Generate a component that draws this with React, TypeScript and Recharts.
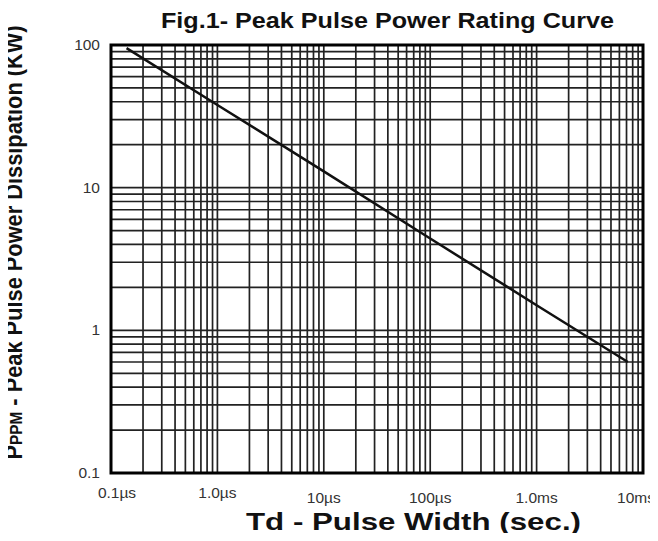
import React from 'react';
import { LineChart, Line, XAxis, YAxis, CartesianGrid, ReferenceArea } from 'recharts';

const pulseWidth = [1.4e-7, 1e-6, 1e-5, 1e-4, 1e-3, 7.2e-3];
const peakPower = [95, 38, 13, 4.4, 1.5, 0.6];
const xDecades = [1e-7, 1e-6, 1e-5, 1e-4, 1e-3, 1e-2];
const xTickLabels = ['0.1µs', '1.0µs', '10µs', '100µs', '1.0ms', '10ms'];
const yDecades = [0.1, 1, 10, 100];
const yTickLabels = ['0.1', '1', '10', '100'];
const multipliers = [1, 2, 3, 4, 5, 6, 7, 8, 9];

const data = pulseWidth.map((t, i) => ({ t, p: peakPower[i] }));

const buildGrid = (decades: number[]) => {
  const out: number[] = [];
  decades.forEach((d, i) => {
    if (i < decades.length - 1) multipliers.forEach((m) => out.push(d * m));
    else out.push(d);
  });
  return out;
};
const xGridTicks = buildGrid(xDecades);
const yGridTicks = buildGrid(yDecades);

const findDecade = (decades: number[], v: number) =>
  decades.findIndex((d) => Math.abs(Math.log10(d) - Math.log10(v)) < 1e-6);

const FONT = '"Liberation Sans", Arial, sans-serif';

const XTick = (props: any) => {
  const { x, y, payload } = props;
  const i = findDecade(xDecades, payload.value);
  if (i < 0) return null;
  const last = i === xDecades.length - 1;
  const dx = i === 0 ? 6 : last ? 12 : 0;
  const dy = i < 2 ? 25 : 30;
  return (
    <text
      x={x + dx}
      y={y + dy}
      textAnchor={last ? 'end' : 'middle'}
      fontFamily={FONT}
      fontSize={15.5}
      fill="#333"
    >
      {xTickLabels[i]}
    </text>
  );
};

const YTick = (props: any) => {
  const { x, y, payload } = props;
  const i = findDecade(yDecades, payload.value);
  if (i < 0) return null;
  return (
    <text x={x - 11} y={y + 5} textAnchor="end" fontFamily={FONT} fontSize={15.5} fill="#333">
      {yTickLabels[i]}
    </text>
  );
};

export default function App() {
  return (
    <div style={{ position: 'relative', width: 650, height: 525 }}>
      <LineChart
        width={650}
        height={525}
        data={data}
        margin={{ top: 37, right: 15, bottom: 20, left: 0 }}
        style={{ overflow: 'visible' }}
      >
        <CartesianGrid stroke="#222" strokeWidth={1.7} />
        <XAxis
          dataKey="t"
          type="number"
          scale="log"
          domain={[1e-7, 1e-2]}
          allowDataOverflow
          ticks={xGridTicks}
          interval={0}
          tickLine={false}
          axisLine={false}
          tickSize={0}
          tickMargin={0}
          height={40}
          tick={<XTick />}
        />
        <YAxis
          type="number"
          scale="log"
          domain={[0.1, 100]}
          allowDataOverflow
          ticks={yGridTicks}
          interval={0}
          tickLine={false}
          axisLine={false}
          tickSize={0}
          tickMargin={0}
          width={103}
          tick={<YTick />}
        />
        <ReferenceArea x1={1e-7} x2={1e-2} y1={0.1} y2={100} fill="none" stroke="#000" strokeWidth={3} />
        <Line
          dataKey="p"
          type="linear"
          stroke="#111"
          strokeWidth={2.5}
          dot={false}
          isAnimationActive={false}
        />
      </LineChart>
      <svg
        width={658}
        height={541}
        style={{ position: 'absolute', left: -8, top: -8, pointerEvents: 'none' }}
      >
        <text
          x={161}
          y={28}
          textLength={453}
          lengthAdjust="spacingAndGlyphs"
          fontFamily={FONT}
          fontWeight="bold"
          fontSize={22.5}
          fill="#111"
        >
          Fig.1- Peak Pulse Power Rating Curve
        </text>
        <text
          x={246}
          y={530}
          textLength={335}
          lengthAdjust="spacingAndGlyphs"
          fontFamily={FONT}
          fontWeight="bold"
          fontSize={24}
          fill="#111"
        >
          Td - Pulse Width (sec.)
        </text>
        <text
          transform="translate(22,242.5) rotate(-90) scale(1,1.1)"
          textAnchor="middle"
          fontFamily={FONT}
          fontWeight="bold"
          fontSize={21.8}
          fill="#111"
        >
          P<tspan fontSize={15.4}>PPM</tspan> - Peak Pulse Power Dissipation (KW)
        </text>
      </svg>
    </div>
  );
}
